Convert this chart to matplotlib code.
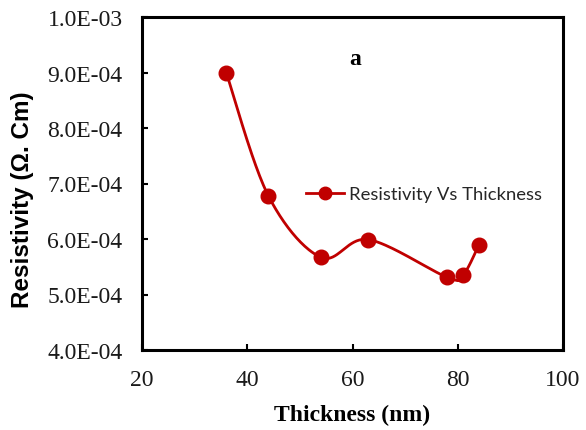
import matplotlib
matplotlib.use("Agg")
import matplotlib.pyplot as plt
import numpy as np
from matplotlib.ticker import FuncFormatter

thickness = [36, 44, 54, 63, 78, 81, 84]          # nm
resistivity = [9.00e-4, 6.78e-4, 5.67e-4, 5.99e-4, 5.31e-4, 5.35e-4, 5.89e-4]  # ohm cm

x_ticks = [20, 40, 60, 80, 100]
y_ticks = [4e-4, 5e-4, 6e-4, 7e-4, 8e-4, 9e-4, 1e-3]

RED = "#C00000"
SERIF = "Liberation Serif"
SANS = "Liberation Sans"


def smooth_curve(xs, ys, scale, n=40):
    # catmull-rom through the points, done in screen-like units so the
    # bends look the same as a spreadsheet "smoothed line"
    p = np.column_stack([np.asarray(xs) * scale[0], np.asarray(ys) * scale[1]])
    p = np.vstack([p[0], p, p[-1]])
    out = []
    t = np.linspace(0, 1, n)[:, None]
    for i in range(1, len(p) - 2):
        p0, p1, p2, p3 = p[i - 1], p[i], p[i + 1], p[i + 2]
        c1 = p1 + (p2 - p0) / 6
        c2 = p2 - (p3 - p1) / 6
        seg = ((1 - t) ** 3) * p1 + 3 * ((1 - t) ** 2) * t * c1 \
            + 3 * (1 - t) * t ** 2 * c2 + t ** 3 * p2
        out.append(seg if i == 1 else seg[1:])
    out = np.vstack(out)
    return out[:, 0] / scale[0], out[:, 1] / scale[1]


fig = plt.figure(figsize=(5.86, 4.31), dpi=100)
ax = fig.add_axes([142 / 586, 80 / 431, 421 / 586, 333 / 431])

sx, sy = smooth_curve(thickness, resistivity, (421 / 80, 333 / 6e-4))
ax.plot(sx, sy, color=RED, lw=2.0, zorder=2)
ax.plot(thickness, resistivity, "o", color=RED, ms=10.5, zorder=3)

# legend proxy: line with marker
ax.plot([], [], "-o", color=RED, lw=2.0, ms=9, label="Resistivity Vs Thickness")
leg = ax.legend(loc="center left", bbox_to_anchor=(306 / 586, 236 / 431),
                bbox_transform=fig.transFigure, frameon=False, borderpad=0,
                borderaxespad=0, handlelength=2.05, handletextpad=0.3,
                prop={"family": "Lato", "size": 13.3})
for t in leg.get_texts():
    t.set_color("#262626")

ax.set_xlim(20, 100)
ax.set_ylim(4e-4, 1e-3)
ax.set_xticks(x_ticks)
ax.set_yticks(y_ticks)
ax.yaxis.set_major_formatter(FuncFormatter(lambda v, _: "%.1E" % v))

ax.tick_params(direction="in", length=4, width=1.5, pad=14, labelsize=17)
for lab in ax.get_xticklabels() + ax.get_yticklabels():
    lab.set_family(SERIF)
    lab.set_color("#1a1a1a")

for sp in ax.spines.values():
    sp.set_linewidth(2.2)

ax.set_xlabel("Thickness (nm)", family=SERIF, fontweight="bold", fontsize=17,
              labelpad=10)
ax.set_ylabel("Resistivity (Ω. Cm)", family=SANS, fontweight="bold", fontsize=17.5)
ax.yaxis.label.set_verticalalignment("center")
ax.yaxis.set_label_coords(-0.283, 0.455)
ax.text(0.506, 0.874, "a", family=SERIF, fontweight="bold", fontsize=17,
        ha="center", va="center", transform=ax.transAxes)

fig.savefig("out.png", dpi=100)
